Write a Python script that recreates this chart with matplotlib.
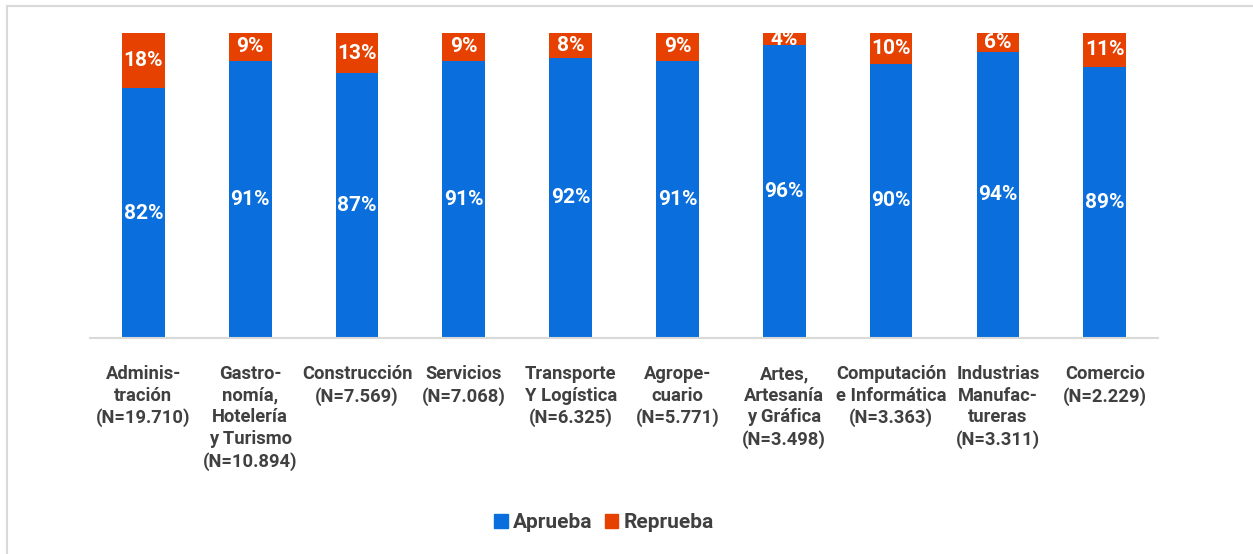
import matplotlib.pyplot as plt
from matplotlib.lines import Line2D
from matplotlib.patches import Patch
import matplotlib.transforms as mtransforms

plt.rcParams['font.family'] = ['Roboto', 'DejaVu Sans']

categorias = ["Adminis-\ntración\n(N=19.710)",
              "Gastro-\nnomía,\nHotelería\ny Turismo\n(N=10.894)",
              "Construcción\n(N=7.569)",
              "Servicios\n(N=7.068)",
              "Transporte\nY Logística\n(N=6.325)",
              "Agrope-\ncuario\n(N=5.771)",
              "Artes,\nArtesanía\ny Gráfica\n(N=3.498)",
              "Computación\ne Informática\n(N=3.363)",
              "Industrias\nManufac-\ntureras\n(N=3.311)",
              "Comercio\n(N=2.229)"]
aprueba = [82, 91, 87, 91, 92, 91, 96, 90, 94, 89]
reprueba = [18, 9, 13, 9, 8, 9, 4, 10, 6, 11]

azul = "#0A6EDC"
rojo = "#E64100"
gris = "#404040"

fig = plt.figure(figsize=(12.53, 5.54), dpi=100)
ax = fig.add_axes([0.0718, 0.390, 0.8525, 0.550])

x = list(range(len(categorias)))
b1 = ax.bar(x, aprueba, width=0.40, color=azul)
b2 = ax.bar(x, reprueba, width=0.40, bottom=aprueba, color=rojo)

for i in x:
    ax.text(i, aprueba[i] / 2, "{}%".format(aprueba[i]), ha="center", va="center",
            color="white", fontsize=15, fontweight="bold")
    ax.text(i, aprueba[i] + reprueba[i] / 2, "{}%".format(reprueba[i]), ha="center",
            va="center", color="white", fontsize=15, fontweight="bold")

trans = mtransforms.blended_transform_factory(ax.transData, ax.transAxes)
offset = mtransforms.ScaledTranslation(0, -27 / 100, fig.dpi_scale_trans)
for i, c in enumerate(categorias):
    ax.text(i, 0, c, transform=trans + offset, ha="center", va="top",
            color=gris, fontsize=13.2, fontweight="bold", linespacing=1.27)

ax.set_xlim(-0.5, len(categorias) - 0.5)
ax.set_ylim(0, 100)
ax.set_xticks([])
ax.set_yticks([])
for s in ["top", "right", "left"]:
    ax.spines[s].set_visible(False)
ax.spines["bottom"].set_color("#d9d9d9")
ax.spines["bottom"].set_linewidth(1.5)

handles = [Patch(color=azul, label="Aprueba"), Patch(color=rojo, label="Reprueba")]
leg = fig.legend(handles=handles, loc="center", bbox_to_anchor=(0.482, 0.057), ncol=2,
                 frameon=False, handlelength=0.65, handleheight=0.65, handletextpad=0.25,
                 columnspacing=0.6, prop={"weight": "bold", "size": 15})
for t in leg.get_texts():
    t.set_color(gris)

# marco gris del recuadro
fig.add_artist(Line2D([7 / 1253, 1], [1 - 6 / 554, 1 - 6 / 554], color="#d9d9d9", lw=1.5))
fig.add_artist(Line2D([7 / 1253, 7 / 1253], [0, 1 - 6 / 554], color="#d9d9d9", lw=1.5))

fig.savefig("out.png", dpi=100)
